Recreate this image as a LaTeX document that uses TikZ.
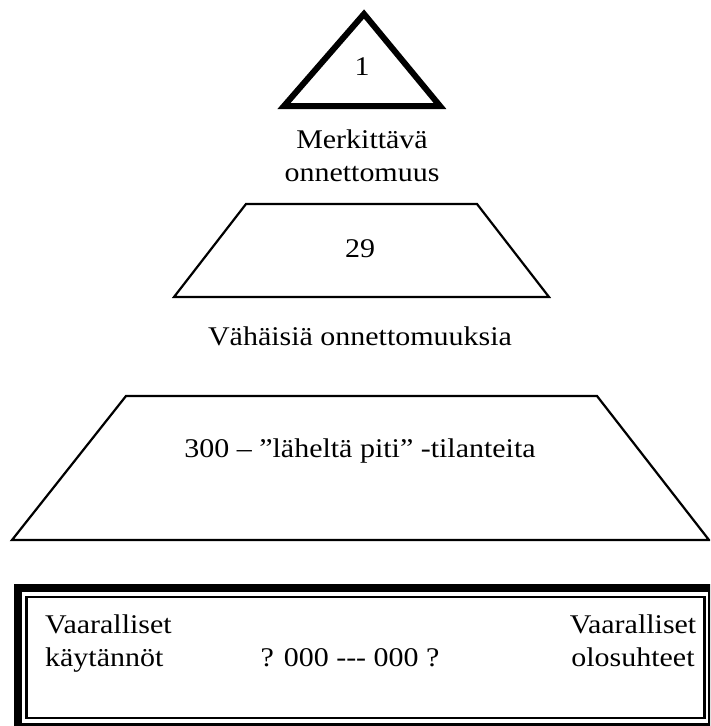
\documentclass[tikz,border=0pt]{standalone}
\usepackage{fontspec}
\setmainfont[FakeStretch=1.11]{Liberation Serif}
\begin{document}
\begin{tikzpicture}[x=1pt,y=-1pt,
  label/.style={inner sep=0pt,font=\fontsize{27}{33}\selectfont,align=center},
  level/.style={line width=2.2pt,line join=miter},
  apexshape/.style={line width=6pt,line join=miter}]
\useasboundingbox (0,0) rectangle (710,726);
\clip (0,0) rectangle (710,726);
\fill[white] (0,0) rectangle (710,726);

% top of the pyramid
\draw[apexshape] (284,106) -- (364,14) -- (440,106) -- cycle;
\node[label,anchor=base] (one) at (362,75) {1};
% anchor=base sits on the last line of a two-line label
\node[label,anchor=base] (serious) at (362,181) {Merkittävä\\onnettomuus};

% middle level
\draw[level] (246,204) -- (477,204) -- (549,297) -- (174,297) -- cycle;
\node[label,anchor=base] (minor) at (360,257) {29};
\node[label,anchor=base] (minortext) at (360,345) {Vähäisiä onnettomuuksia};

% lower level
\draw[level] (126,396) -- (597,396) -- (709,540) -- (12,540) -- cycle;
\node[label,anchor=base] (near) at (360,457) {300 – ”läheltä piti” -tilanteita};

% base box with double frame
\draw[line width=8pt] (18,588) rectangle (712,727);
\draw[line width=2.5pt] (26.5,597) rectangle (704.5,718);
\node[label,anchor=base west,align=left] (practices) at (45,666) {Vaaralliset\\käytännöt};
\node[label,anchor=base] (count) at (350,666) {? 000 -{}-{}- 000 ?};
\node[label,anchor=base] (conditions) at (633,666) {Vaaralliset\\olosuhteet};
\end{tikzpicture}
\end{document}
